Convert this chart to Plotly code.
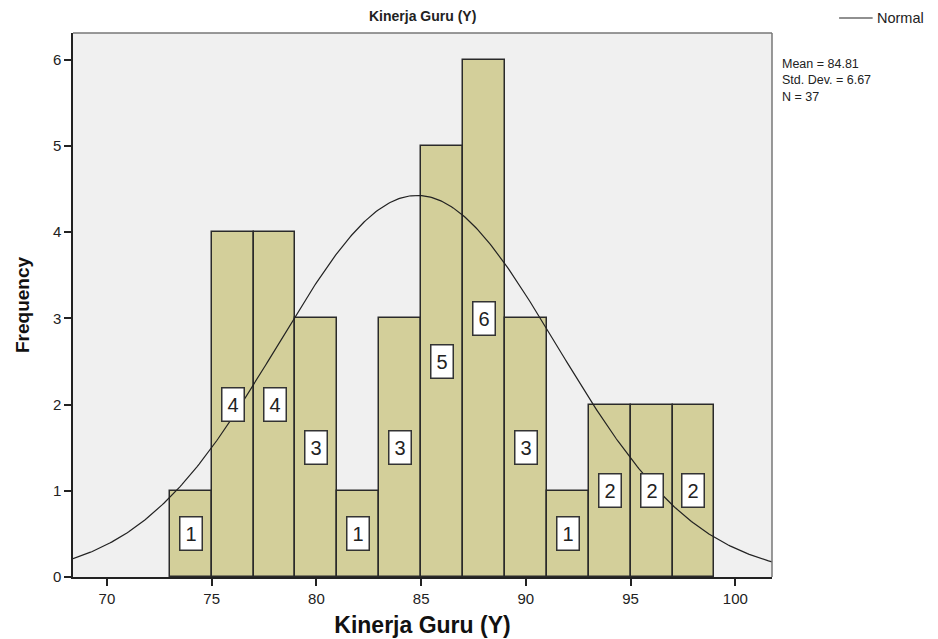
import numpy as np
import plotly.graph_objects as go

# Data
bin_starts = [73, 75, 77, 79, 81, 83, 85, 87, 89, 91, 93, 95, 97]
bin_width = 2
counts = [1, 4, 4, 3, 1, 3, 5, 6, 3, 1, 2, 2, 2]
mean_val = 84.81
std_val = 6.67
n_val = 37
x_ticks = [70, 75, 80, 85, 90, 95, 100]
y_ticks = [0, 1, 2, 3, 4, 5, 6]

x_range = [68.38, 101.75]
y_range = [0, 6.31]

centers = [s + bin_width / 2 for s in bin_starts]
FONT = "Liberation Sans, Arial"

fig = go.Figure()
fig.add_trace(go.Bar(
    x=centers, y=counts, width=bin_width,
    marker=dict(color="#d3cf9a", line=dict(color="#2a2a2a", width=1.5)),
    showlegend=False, hoverinfo="x+y",
))

xc = np.linspace(x_range[0], x_range[1], 400)
yc = n_val * bin_width * np.exp(-0.5 * ((xc - mean_val) / std_val) ** 2) / (std_val * np.sqrt(2 * np.pi))
fig.add_trace(go.Scatter(
    x=xc, y=yc, mode="lines", name="Normal",
    line=dict(color="#222222", width=1.2), showlegend=False,
))

for c, v in zip(centers, counts):
    fig.add_annotation(
        x=c, y=v / 2, text=str(v), showarrow=False,
        font=dict(family=FONT, size=20, color="#222"),
        bgcolor="white", bordercolor="#333", borderwidth=1.5, borderpad=2,
        width=17, height=28,
    )

# top/right frame in grey
fig.add_shape(type="line", xref="paper", yref="paper", x0=0, x1=1, y0=1, y1=1,
              line=dict(color="#777", width=1.5))
fig.add_shape(type="line", xref="paper", yref="paper", x0=1, x1=1, y0=0, y1=1,
              line=dict(color="#777", width=1.5))

# legend key for the normal curve
fig.add_shape(type="line", xref="paper", yref="paper", x0=1.096, x1=1.144, y0=1.0276, y1=1.0276,
              line=dict(color="#222", width=1.2))
fig.add_annotation(
    xref="paper", yref="paper", x=1.147, y=1.0276, xanchor="left", yanchor="middle",
    text="Normal", showarrow=False,
    font=dict(family=FONT, size=14.5, color="#222"),
)

stats_text = "Mean = %.2f<br>Std. Dev. = %.2f<br>N = %d" % (mean_val, std_val, n_val)
fig.add_annotation(
    xref="paper", yref="paper", x=1.012, y=0.9118, xanchor="left", yanchor="middle",
    text=stats_text, showarrow=False, align="left",
    font=dict(family=FONT, size=12.5, color="#222"),
)

fig.add_annotation(
    xref="paper", yref="paper", x=0.5, y=1.0, yshift=17, xanchor="center", yanchor="middle",
    text="<b>Kinerja Guru (Y)</b>", showarrow=False,
    font=dict(family=FONT, size=14, color="#222"),
)

fig.update_layout(
    width=930, height=631,
    margin=dict(l=65, r=166, t=25, b=62, autoexpand=False),
    paper_bgcolor="white", plot_bgcolor="#f0f0f0",
    bargap=0,
    showlegend=False,
    xaxis=dict(
        range=x_range, tickvals=x_ticks, ticks="outside", ticklen=7, tickwidth=1.5, tickcolor="#222",
        showline=True, linecolor="#222", linewidth=1.5, showgrid=False, zeroline=False,
        tickfont=dict(family=FONT, size=15, color="#222"),
        title=dict(text="<b>Kinerja Guru (Y)</b>", standoff=11,
                   font=dict(family=FONT, size=23, color="#111")),
        automargin=False,
    ),
    yaxis=dict(
        range=y_range, tickvals=y_ticks, ticks="outside", ticklen=7, tickwidth=1.5, tickcolor="#222",
        showline=True, linecolor="#222", linewidth=1.5, showgrid=False, zeroline=False,
        tickfont=dict(family=FONT, size=15, color="#222"),
        title=dict(text="<b>Frequency</b>", standoff=18,
                   font=dict(family=FONT, size=19, color="#111")),
        automargin=False,
    ),
)

fig.write_html("out.html")
